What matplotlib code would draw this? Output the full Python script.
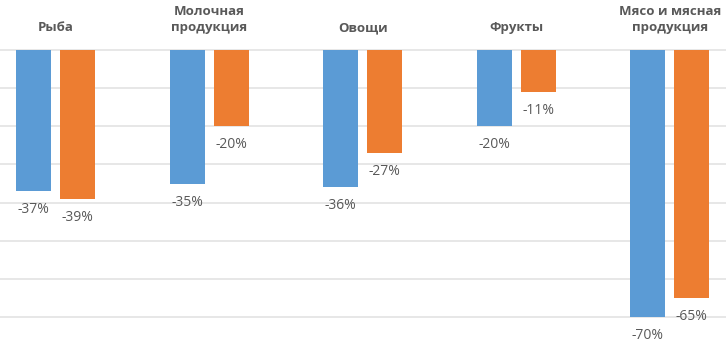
import numpy as np
import matplotlib
matplotlib.use('Agg')
import matplotlib.pyplot as plt

# Данные
categories = ['Рыба', 'Молочная\nпродукция', 'Овощи', 'Фрукты', 'Мясо и мясная\nпродукция']
series_blue = [-37, -35, -36, -20, -70]
series_orange = [-39, -20, -27, -11, -65]
grid_values = [0, -10, -20, -30, -40, -50, -60, -70]

blue = '#5B9BD5'
orange = '#ED7D31'
txt = '#595959'

plt.rcParams['font.family'] = ['Open Sans', 'DejaVu Sans']

fig = plt.figure(figsize=(7.26, 3.43), dpi=100)
ax = fig.add_axes([0, 0, 1, 1])

x = np.arange(len(categories))
w = 0.228
off = 0.143

for g in grid_values:
    ax.axhline(g, color='#E3E3E3', lw=1.2, zorder=0)

ax.bar(x - off, series_blue, width=w, color=blue, zorder=2)
ax.bar(x + off, series_orange, width=w, color=orange, zorder=2)

for i in range(len(categories)):
    ax.text(x[i] - off, series_blue[i] - 2.9, f'{series_blue[i]}%', ha='center', va='top',
            fontsize=10, color=txt)
    ax.text(x[i] + off, series_orange[i] - 2.9, f'{series_orange[i]}%', ha='center', va='top',
            fontsize=10, color=txt)
    ax.text(x[i], 4.2, categories[i], ha='center', va='bottom', fontsize=9.5,
            fontweight='bold', color=txt, linespacing=1.25)

ax.set_xlim(-0.361, 4.365)
ax.set_ylim(-76.8, 13.1)
ax.axis('off')

fig.savefig('out.png', dpi=100)
